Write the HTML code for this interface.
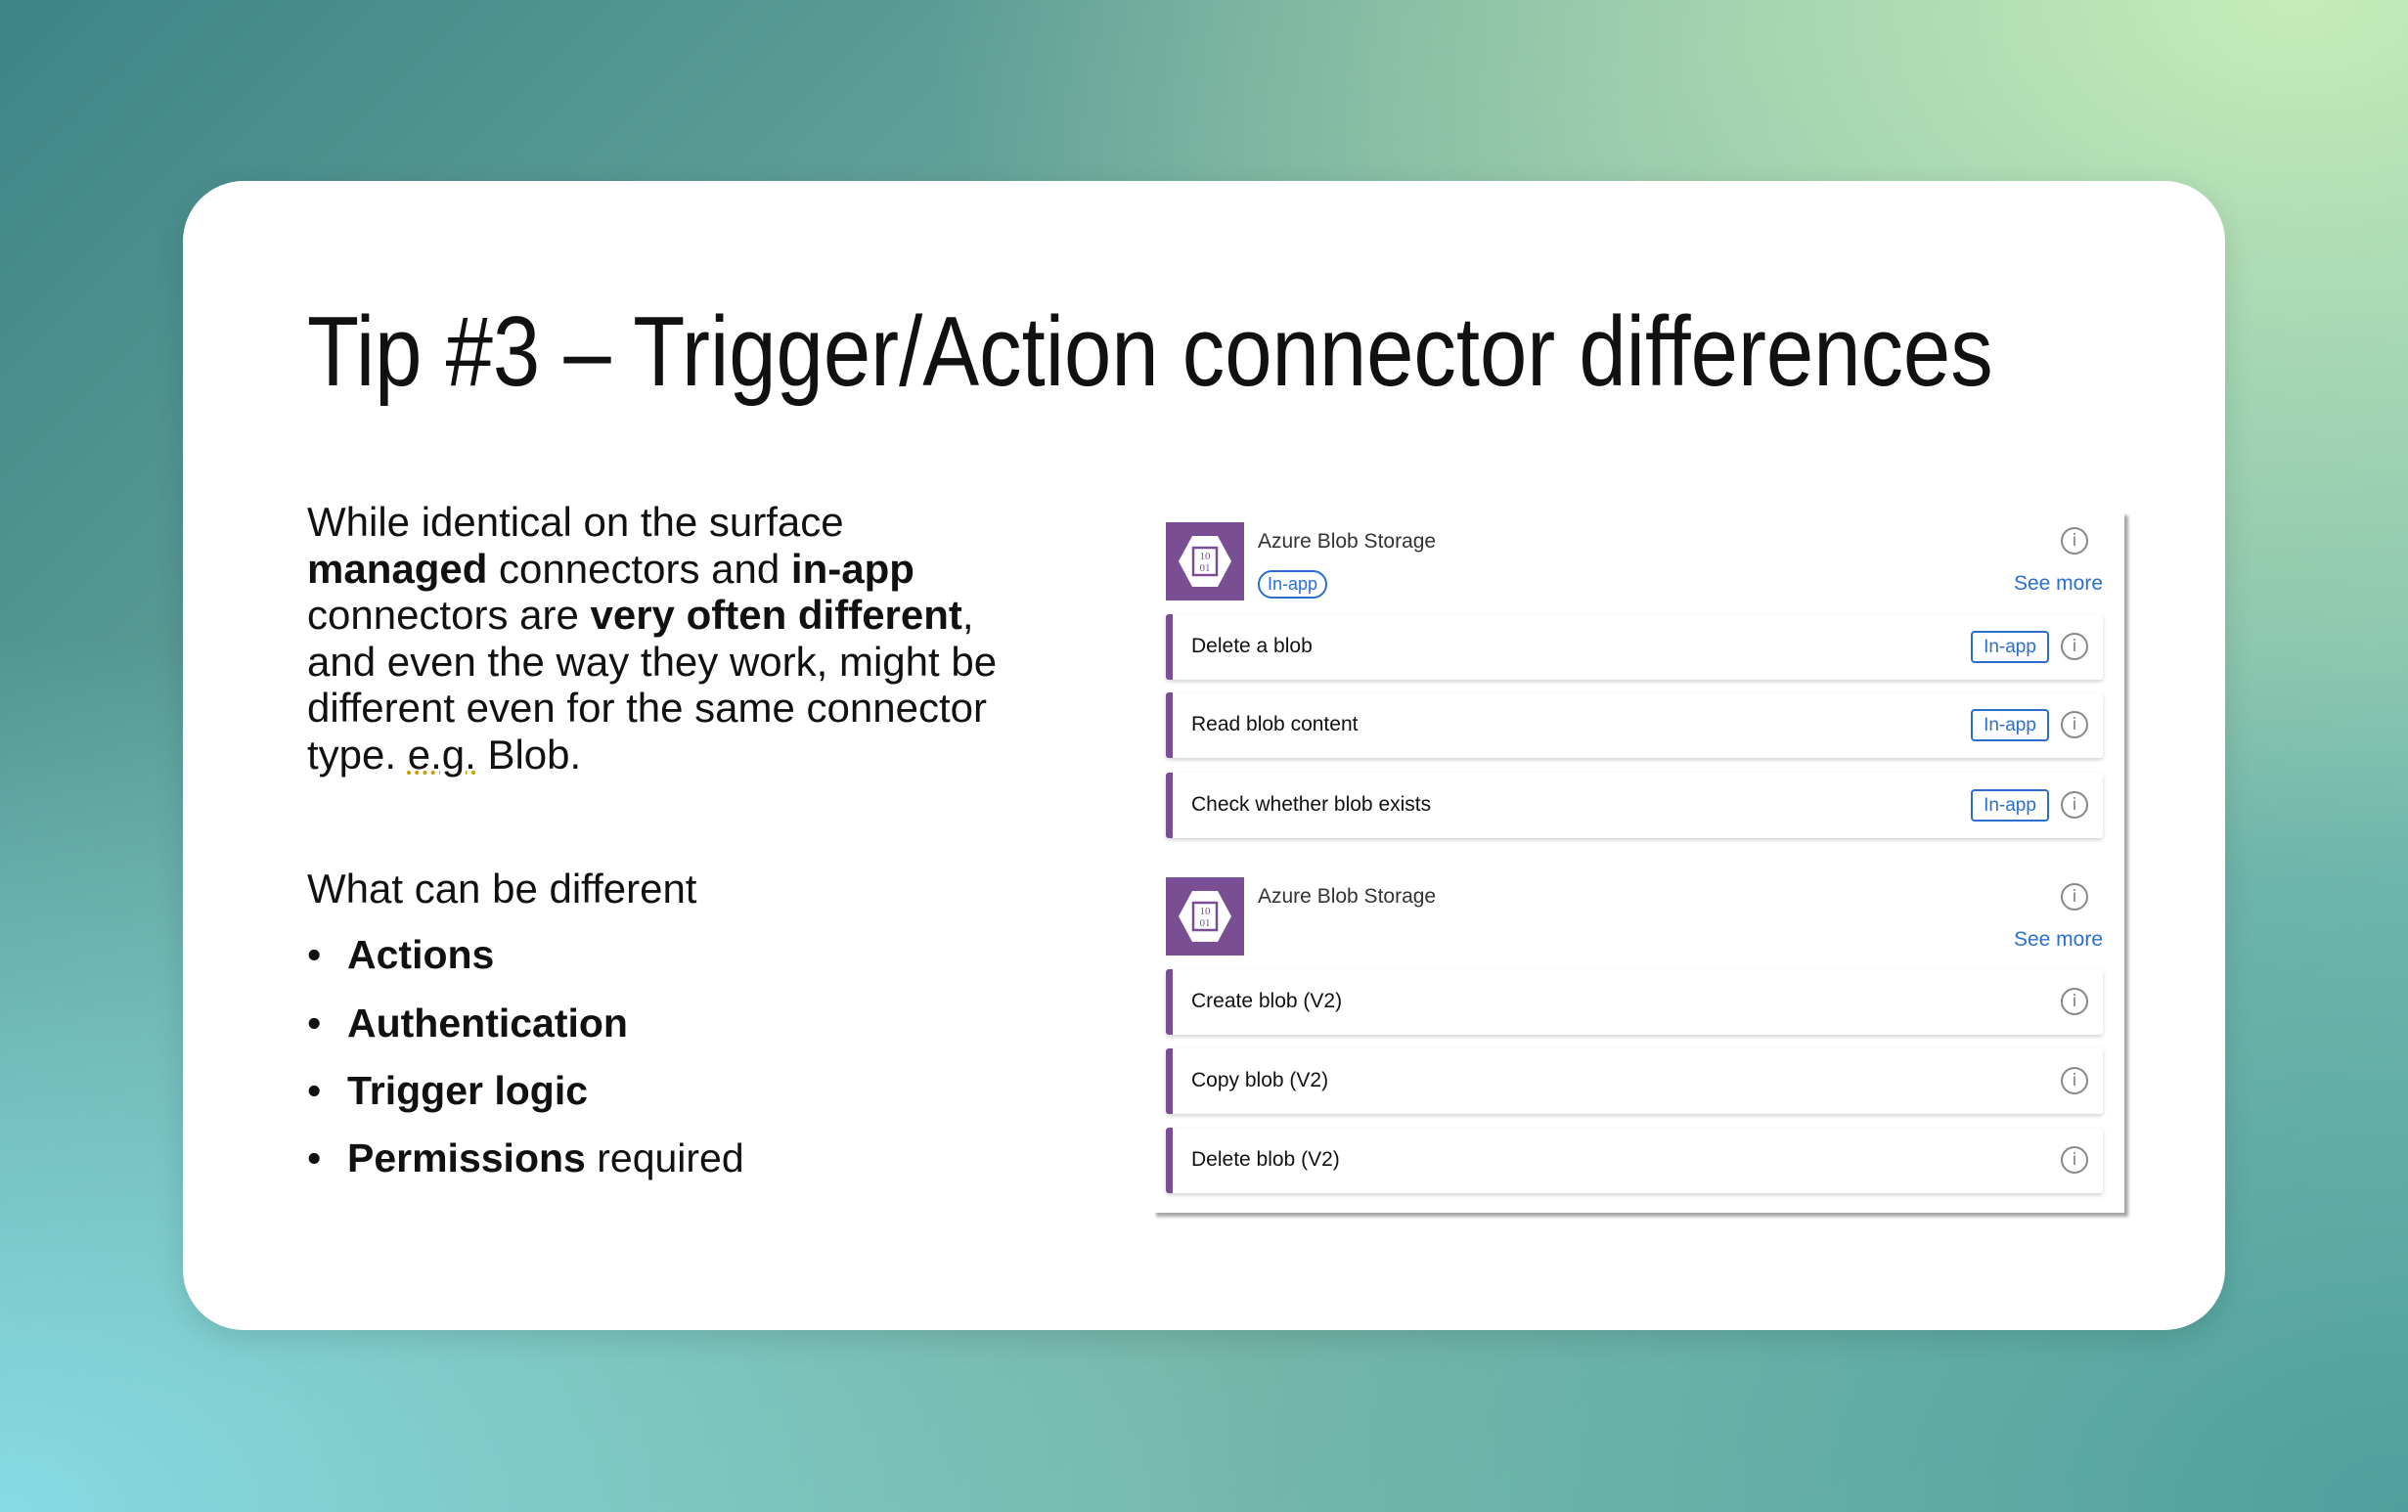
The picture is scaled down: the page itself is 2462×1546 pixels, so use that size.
<!DOCTYPE html>
<html><head><meta charset="utf-8"><style>
*{margin:0;padding:0;box-sizing:border-box}
body{width:2462px;height:1546px;overflow:hidden;position:relative;font-family:"Liberation Sans",sans-serif;
background:
radial-gradient(ellipse 1400px 900px at 2350px 0px,#c6ecb9 0%,rgba(198,236,185,0) 100%),
radial-gradient(ellipse 1300px 900px at 0px 1546px,#86dbe3 0%,rgba(134,219,227,0) 100%),
radial-gradient(ellipse 1300px 900px at 2462px 1546px,#4f9f9e 0%,rgba(79,159,158,0) 100%),
linear-gradient(135deg,#3e8488 0%,#74b0a0 45%,#7cc3b7 100%);}
.card{position:absolute;left:187px;top:185px;width:2088px;height:1175px;background:#fff;border-radius:62px;box-shadow:0 8px 30px rgba(0,0,0,.12)}
.title{position:absolute;left:314px;top:300px;font-size:101px;line-height:120px;color:#111;white-space:nowrap;transform-origin:0 0;transform:scaleX(0.86)}
.p{position:absolute;left:314px;font-size:42px;color:#111;white-space:nowrap;line-height:47.5px}
.bul{position:absolute;left:314px;font-size:41px;color:#111;white-space:nowrap}
.bul span.d{position:absolute;left:0;top:0}
.bul span.t{position:absolute;left:41px;top:0}
.panel{position:absolute;left:1178px;top:523px;width:994px;height:717px;background:#fff;box-shadow:4px 4px 3px rgba(0,0,0,.35)}
.icon{position:absolute;width:80px;height:80px;background:#7a4e93}
.icon svg{position:absolute;left:0;top:0}
.h{position:absolute;font-size:21px;color:#333}
.see{position:absolute;right:22px;font-size:21px;color:#2a6fcf}
.pill{position:absolute;border:2px solid #2a6fcf;color:#2a6fcf;font-size:18px;border-radius:18px;padding:2px 8px}
.row{position:absolute;left:14px;width:958px;height:67px;background:#fff;border-left:7px solid #7a4e93;border-radius:3px;box-shadow:0 2px 4px rgba(0,0,0,.18)}
.row .lab{position:absolute;left:19px;top:21px;font-size:21px;color:#111}
.row .badge{position:absolute;left:816px;top:17px;width:80px;height:33px;border:2px solid #2a6fcf;border-radius:4px;color:#2a6fcf;font-size:19px;text-align:center;line-height:29px}
.info{position:absolute;width:28px;height:28px;border:2px solid #888;border-radius:50%;color:#777;font-size:17px;text-align:center;line-height:24px;font-family:"DejaVu Sans",sans-serif}
.row .info{left:908px;top:19px}
</style></head><body>
<div class="card"></div>
<div class="title">Tip #3 – Trigger/Action connector differences</div>
<div class="p" style="top:510px">While identical on the surface<br><b>managed</b> connectors and <b>in-app</b><br>connectors are <b>very often different</b>,<br>and even the way they work, might be<br>different even for the same connector<br>type. <span style="text-decoration:underline dotted #c9a000">e.g.</span> Blob.</div>
<div class="p" style="top:885px">What can be different</div>
<div class="bul" style="top:953px"><span class="d">•</span><span class="t"><b>Actions</b></span></div>
<div class="bul" style="top:1023px"><span class="d">•</span><span class="t"><b>Authentication</b></span></div>
<div class="bul" style="top:1092px"><span class="d">•</span><span class="t"><b>Trigger logic</b></span></div>
<div class="bul" style="top:1161px"><span class="d">•</span><span class="t"><b>Permissions</b> required</span></div>

<div class="panel">
 <div class="icon" style="left:14px;top:11px"><svg width="80" height="80"><polygon points="27,14 53,14 67,40 53,66 27,66 13,40" fill="#fff"/><rect x="28" y="26" width="24" height="28" fill="none" stroke="#7a4e93" stroke-width="2.5"/><text x="40" y="38" font-size="11" text-anchor="middle" fill="#7a4e93" font-family="Liberation Serif">10</text><text x="40" y="50" font-size="11" text-anchor="middle" fill="#7a4e93" font-family="Liberation Serif">01</text></svg></div>
 <div class="h" style="left:108px;top:19px">Azure Blob Storage</div>
 <div class="pill" style="left:108px;top:60px">In-app</div>
 <div class="info" style="left:929px;top:16px">i</div>
 <div class="see" style="top:62px">See more</div>
 <div class="row" style="top:105px"><div class="lab">Delete a blob</div><div class="badge">In-app</div><div class="info">i</div></div>
 <div class="row" style="top:185px"><div class="lab">Read blob content</div><div class="badge">In-app</div><div class="info">i</div></div>
 <div class="row" style="top:267px"><div class="lab">Check whether blob exists</div><div class="badge">In-app</div><div class="info">i</div></div>

 <div class="icon" style="left:14px;top:374px"><svg width="80" height="80"><polygon points="27,14 53,14 67,40 53,66 27,66 13,40" fill="#fff"/><rect x="28" y="26" width="24" height="28" fill="none" stroke="#7a4e93" stroke-width="2.5"/><text x="40" y="38" font-size="11" text-anchor="middle" fill="#7a4e93" font-family="Liberation Serif">10</text><text x="40" y="50" font-size="11" text-anchor="middle" fill="#7a4e93" font-family="Liberation Serif">01</text></svg></div>
 <div class="h" style="left:108px;top:382px">Azure Blob Storage</div>
 <div class="info" style="left:929px;top:380px">i</div>
 <div class="see" style="top:426px">See more</div>
 <div class="row" style="top:468px"><div class="lab">Create blob (V2)</div><div class="info">i</div></div>
 <div class="row" style="top:549px"><div class="lab">Copy blob (V2)</div><div class="info">i</div></div>
 <div class="row" style="top:630px"><div class="lab">Delete blob (V2)</div><div class="info">i</div></div>
</div>
</body></html>
